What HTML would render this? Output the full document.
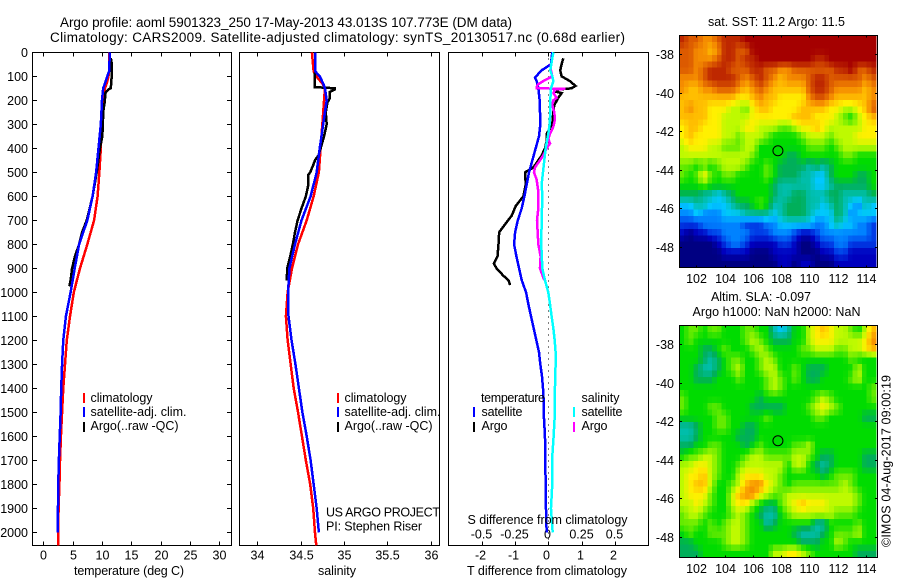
<!DOCTYPE html>
<html>
<head>
<meta charset="utf-8">
<title>Argo profile</title>
<style>
html,body{margin:0;padding:0;background:#fff;width:900px;height:580px;overflow:hidden}
svg{display:block;font-family:"Liberation Sans",sans-serif;font-size:12.5px;fill:#000}
</style>
</head>
<body>
<svg id="chart" width="900" height="580" viewBox="0 0 900 580" xmlns="http://www.w3.org/2000/svg">
<rect width="900" height="580" fill="#fff"/>
<text x="60" y="27" font-size="13.5" textLength="452" lengthAdjust="spacing">Argo profile: aoml 5901323_250 17-May-2013 43.013S 107.773E (DM data)</text>
<text x="50" y="42" font-size="13.5" textLength="575" lengthAdjust="spacing">Climatology: CARS2009. Satellite-adjusted climatology: synTS_20130517.nc (0.68d earlier)</text>
<g id="panels"></g>
<g id="maps"></g>
<text x="74" y="575" textLength="110">temperature (deg C)</text>
<text x="318" y="575" textLength="38">salinity</text>
<text x="467" y="575" textLength="160">T difference from climatology</text>
<text x="467.5" y="524" textLength="160">S difference from climatology</text>
<g>
<rect x="83" y="393" width="2" height="10" fill="#f00"/>
<text x="90.5" y="402" textLength="62">climatology</text>
<rect x="83" y="407" width="2" height="10" fill="#00f"/>
<text x="90.5" y="416" textLength="96">satellite-adj. clim.</text>
<rect x="83" y="422" width="2" height="10" fill="#000"/>
<text x="90.5" y="430" textLength="88">Argo(..raw -QC)</text>
</g>
<g>
<rect x="337" y="393" width="2" height="10" fill="#f00"/>
<text x="344.5" y="402" textLength="62">climatology</text>
<rect x="337" y="407" width="2" height="10" fill="#00f"/>
<text x="344.5" y="416" textLength="96">satellite-adj. clim.</text>
<rect x="337" y="422" width="2" height="10" fill="#000"/>
<text x="344.5" y="430" textLength="88">Argo(..raw -QC)</text>
</g>
<text x="326" y="516.5" textLength="114">US ARGO PROJECT</text>
<text x="326" y="530.5" textLength="96">PI: Stephen Riser</text>
<g>
<text x="481" y="402" textLength="64">temperature</text>
<rect x="473" y="407" width="2" height="10" fill="#00f"/>
<text x="481.5" y="416" textLength="41">satellite</text>
<rect x="473" y="422" width="2" height="10" fill="#000"/>
<text x="481.5" y="430" textLength="26">Argo</text>
<text x="581.5" y="402" textLength="38">salinity</text>
<rect x="573" y="407" width="2" height="10" fill="#0ff"/>
<text x="581.5" y="416" textLength="41">satellite</text>
<rect x="573" y="422" width="2" height="10" fill="#f0f"/>
<text x="581.5" y="430" textLength="26">Argo</text>
</g>
<text x="708" y="26" textLength="137">sat. SST: 11.2 Argo: 11.5</text>
<text x="711" y="301" textLength="100">Altim. SLA: -0.097</text>
<text x="692.5" y="316" textLength="168">Argo h1000: NaN h2000: NaN</text>
<text transform="translate(890.5 547) rotate(-90)" textLength="172">©IMOS 04-Aug-2017 09:00:19</text>
</svg>
<script>
// ---------- profile data (depth in m) ----------
var depthRed = [0,80,100,130,150,200,300,400,500,600,700,800,900,1000,1100,1200,1300,1400,1500,1600,1700,1800,1900,2000,2054];
var tempClim = [11.25,11.2,11.1,10.8,10.5,10.2,9.95,9.8,9.55,9.25,8.65,7.5,6.25,5.2,4.55,4,3.7,3.4,3.2,3,2.85,2.75,2.6,2.55,2.55];
var salClim = [34.63,34.65,34.68,34.75,34.78,34.77,34.75,34.73,34.71,34.65,34.57,34.47,34.4,34.35,34.33,34.35,34.385,34.42,34.47,34.515,34.56,34.61,34.645,34.665,34.68];
var depthBlue = [0,80,100,130,150,200,300,400,500,600,700,800,900,1000,1100,1200,1300,1400,1500,1600,1700,1800,1900,2000];
var tempSat = [11.35,11.2,10.9,10.5,10.2,10,9.8,9.4,9,8.4,7.5,6.1,5.35,4.65,3.85,3.4,3.2,3.05,2.95,2.8,2.65,2.55,2.5,2.45];
var salSat = [34.67,34.67,34.72,34.76,34.78,34.8,34.76,34.72,34.685,34.615,34.51,34.435,34.37,34.355,34.36,34.395,34.44,34.48,34.52,34.57,34.615,34.65,34.685,34.71];
var depthArgoT = [25,50,100,150,155,170,200,250,300,350,400,500,600,700,750,800,850,900,950,975];
var tempArgo = [11.5,11.7,11.65,11.5,11.1,10.55,10.5,10.2,10.15,10.05,9.65,9.1,8.4,7.4,6.6,6.1,5.4,4.9,4.65,4.45];
var depthArgoS = [85,145,150,155,165,190,210,250,300,350,400,430,450,470,500,510,550,600,650,700,750,800,850,900,950];
var salArgo = [34.665,34.665,34.896,34.896,34.838,34.838,34.808,34.79,34.8,34.77,34.73,34.705,34.665,34.645,34.61,34.59,34.59,34.56,34.51,34.465,34.435,34.41,34.38,34.345,34.34];
var depthDiffBlue = [0,50,75,105,120,150,200,300,350,400,450,500,550,600,650,700,750,800,850,900,950,1000,1050,1100,1150,1200,1250,1300,1350,1400,1450,1500,1600,1700,1800,1900,2000];
var diffTSat = [0.12,0.08,-0.2,-0.4,-0.35,-0.3,-0.26,-0.24,-0.28,-0.38,-0.48,-0.58,-0.65,-0.72,-0.8,-0.92,-1,-1.03,-0.96,-0.88,-0.8,-0.67,-0.6,-0.52,-0.44,-0.36,-0.28,-0.24,-0.19,-0.16,-0.14,-0.14,-0.1,-0.09,-0.08,-0.07,-0.05];
var depthDiffBlack = [25,50,75,100,120,140,150,155,165,170,190,220,250,300,340,370,400,430,450,480,500,550,600,640,680,720,750,800,850,880,900,930,950,970];
var diffTArgo = [0.45,0.4,0.36,0.4,0.65,0.82,0.7,0.3,0.25,0.4,0.3,0.18,0.15,0.12,-0.05,-0.05,-0.1,-0.2,-0.3,-0.45,-0.7,-0.68,-0.75,-0.98,-1.1,-1.32,-1.48,-1.5,-1.53,-1.64,-1.56,-1.36,-1.2,-1.15];
var depthDiffMag = [50,75,100,120,135,145,150,152,155,170,180,190,200,220,250,280,310,340,360,380,400,430,450,480,500,530,580,650,700,800,850,900,950];
var diffSArgo = [0.02,0.02,0.03,-0.038,-0.08,-0.088,-0.088,0.13,0.05,0.038,0.05,0.063,0.038,0.03,0.045,0.05,0.038,0.013,0,0.013,-0.013,-0.038,-0.063,-0.1,-0.108,-0.088,-0.075,-0.075,-0.085,-0.075,-0.058,-0.063,-0.03];
var depthDiffCyan = [0,25,75,100,120,150,200,250,300,340,400,450,500,550,600,700,800,900,950,1000,1050,1100,1150,1200,1250,1300,1400,1500,1600,1700,1800,1900,2000];
var diffSSat = [0.038,0.03,0.015,0.03,0.038,0.02,0.015,0.015,0.01,0,-0.02,-0.03,-0.04,-0.05,-0.045,-0.05,-0.053,-0.045,-0.025,0,0.013,0.025,0.038,0.048,0.055,0.055,0.05,0.05,0.04,0.028,0.03,0.02,0.033];

// ---------- tick labels ----------
var depthTicks = [0,100,200,300,400,500,600,700,800,900,1000,1100,1200,1300,1400,1500,1600,1700,1800,1900,2000];
var tempTicks = [0,5,10,15,20,25,30];
var salTicks = [34,34.5,35,35.5,36];
var diffTTicks = [-2,-1,0,1,2];
var diffSTicks = ["-0.5","-0.25","0","0.25","0.5"];
var lonTicks = [102,104,106,108,110,112,114];
var latTicks = [-38,-40,-42,-44,-46,-48];
var floatLon = 107.773;
var floatLat = -43.013;

// ---------- map grids: colour level per 0.5 degree cell, north to south ----------
var sstRow00 = [14,13,13,12,12,13,14,14,14,15,15,15,15,15,15,15,15,15,15,15,15,15,15,15,15,15,15,15];
var sstRow01 = [13,13,12,12,11,12,14,14,13,13,15,15,15,15,15,15,15,15,15,15,15,15,15,15,15,15,15,15];
var sstRow02 = [13,13,12,12,12,13,14,14,13,14,14,15,15,15,15,15,15,15,15,14,14,15,15,15,15,15,15,15];
var sstRow03 = [13,13,12,13,14,14,14,13,13,13,14,14,13,13,12,12,13,13,13,13,13,13,14,14,15,13,13,14];
var sstRow04 = [12,12,12,13,14,14,14,14,13,12,13,14,13,12,11,12,12,12,13,14,14,13,13,13,13,13,12,13];
var sstRow05 = [12,11,11,12,12,13,13,13,12,11,12,13,12,11,11,11,11,11,13,14,14,13,12,12,12,12,11,12];
var sstRow06 = [11,11,11,11,11,11,11,11,10,10,11,12,11,11,10,10,10,10,12,13,13,12,11,11,11,11,11,12];
var sstRow07 = [11,12,11,11,10,10,10,9,9,8,10,11,11,10,10,10,10,11,11,11,11,10,10,9,9,10,11,13];
var sstRow08 = [11,11,11,11,10,10,9,9,9,9,10,10,10,10,10,10,11,11,11,10,10,10,9,8,7,9,10,11];
var sstRow09 = [10,11,11,10,10,10,9,9,9,10,10,9,9,9,8,8,9,10,10,11,10,9,9,9,9,9,10,10];
var sstRow10 = [10,11,10,10,10,10,9,9,8,9,9,9,8,7,7,7,7,8,9,9,9,8,9,9,9,10,10,10];
var sstRow11 = [9,10,10,10,9,9,8,8,8,9,9,7,7,7,7,7,7,7,8,8,8,7,8,9,9,9,9,9];
var sstRow12 = [9,9,9,9,9,9,9,9,9,9,8,7,7,7,7,6,6,7,7,7,7,7,7,8,8,7,7,7];
var sstRow13 = [8,8,7,8,7,8,9,9,9,8,7,7,8,7,6,6,6,6,5,6,5,6,7,7,7,7,7,7];
var sstRow14 = [8,7,8,10,8,7,8,8,7,7,7,7,8,7,6,6,6,5,5,4,4,6,7,7,7,6,6,7];
var sstRow15 = [7,7,7,8,7,7,7,7,7,7,7,7,7,6,5,5,5,5,5,4,4,5,6,6,6,6,6,7];
var sstRow16 = [6,6,6,5,5,4,5,6,7,7,7,7,7,6,5,5,6,6,5,5,5,6,6,5,5,5,5,6];
var sstRow17 = [4,4,5,5,4,4,4,5,6,6,7,8,7,5,5,6,6,6,5,5,4,5,6,5,4,3,5,4];
var sstRow18 = [3,3,4,3,3,3,4,4,4,5,5,5,5,4,5,6,6,6,5,4,4,4,6,5,3,4,4,4];
var sstRow19 = [2,2,2,3,3,3,3,3,3,2,2,2,3,3,4,4,4,4,4,3,3,4,5,4,4,3,3,2];
var sstRow20 = [1,0,1,1,2,2,3,3,3,3,2,2,2,3,3,3,2,1,1,2,3,3,3,3,3,3,3,2];
var sstRow21 = [0,0,0,0,0,1,2,3,3,2,1,1,1,1,2,2,1,0,0,1,2,2,3,3,2,2,2,2];
var sstRow22 = [0,0,0,0,0,0,1,1,1,1,0,0,0,1,1,1,1,0,0,0,1,1,2,2,1,1,1,1];
var sstRow23 = [0,0,0,0,0,0,0,0,0,0,0,0,0,0,1,1,0,1,1,0,0,0,1,1,1,1,1,1];
var sstGrid = [sstRow00,sstRow01,sstRow02,sstRow03,sstRow04,sstRow05,sstRow06,sstRow07,sstRow08,sstRow09,sstRow10,sstRow11,sstRow12,sstRow13,sstRow14,sstRow15,sstRow16,sstRow17,sstRow18,sstRow19,sstRow20,sstRow21,sstRow22,sstRow23];

var slaRow00 = [7,8,8,7,8,8,7,7,7,8,8,7,7,5,4,5,7,7,9,10,11,10,9,9,8,7,9,11];
var slaRow01 = [7,8,7,7,7,7,7,7,7,8,9,8,7,6,6,6,7,7,9,10,10,10,9,9,9,9,10,12];
var slaRow02 = [7,7,7,6,6,7,8,7,7,7,8,9,8,7,7,7,7,8,8,9,9,9,8,8,9,9,10,11];
var slaRow03 = [7,7,7,6,5,6,7,8,8,7,7,8,9,8,7,7,7,7,7,7,7,7,7,7,8,7,7,7];
var slaRow04 = [7,7,6,5,5,6,7,8,9,7,7,8,9,9,7,7,8,7,6,6,6,7,7,7,7,9,7,7];
var slaRow05 = [7,7,6,6,6,7,7,7,8,7,7,7,8,9,8,7,8,7,6,6,7,7,7,7,8,9,7,7];
var slaRow06 = [7,7,7,7,7,7,7,7,7,7,7,7,8,9,8,7,7,7,7,7,7,7,7,7,7,7,7,8];
var slaRow07 = [8,7,7,7,7,7,7,7,7,7,7,6,7,7,7,7,7,7,7,8,9,8,7,7,7,7,7,8];
var slaRow08 = [8,7,7,7,8,8,7,7,7,7,6,6,6,6,6,7,7,7,8,9,10,9,8,7,7,7,7,7];
var slaRow09 = [7,7,7,7,7,8,8,7,7,7,7,7,8,7,7,7,7,7,7,8,8,7,7,7,7,7,6,6];
var slaRow10 = [5,5,6,7,7,8,8,7,7,6,6,7,7,7,7,7,7,7,7,7,7,7,7,7,7,7,7,7];
var slaRow11 = [5,5,6,7,7,7,7,7,6,6,6,7,7,7,7,7,7,7,7,7,7,7,7,7,7,7,7,7];
var slaRow12 = [6,6,7,7,8,8,7,7,7,6,7,8,7,7,7,7,8,8,9,7,7,7,7,7,7,7,7,7];
var slaRow13 = [7,8,8,9,9,8,7,7,7,8,9,9,8,8,8,8,9,9,8,7,6,6,7,7,7,7,6,6];
var slaRow14 = [9,9,10,10,9,8,7,7,8,9,9,9,9,9,9,7,9,9,7,6,5,6,7,7,7,7,6,6];
var slaRow15 = [9,10,10,11,9,8,7,7,9,10,10,10,9,9,8,7,7,7,7,7,6,7,8,8,8,7,7,7];
var slaRow16 = [9,10,11,11,9,7,7,8,9,11,12,12,10,9,8,7,8,8,8,8,8,8,8,9,8,7,7,7];
var slaRow17 = [9,10,10,10,8,7,7,9,11,12,12,10,9,8,8,9,9,9,9,9,9,9,9,9,9,8,7,7];
var slaRow18 = [9,9,10,9,8,7,7,9,10,10,8,7,6,6,8,9,10,11,10,10,10,9,9,9,9,8,7,7];
var slaRow19 = [8,9,9,8,7,7,7,8,9,8,7,6,5,5,7,8,9,9,9,9,9,9,8,8,8,7,7,7];
var slaRow20 = [8,8,8,7,8,7,8,9,9,8,7,7,5,6,7,7,7,7,7,5,5,7,7,7,7,8,7,7];
var slaRow21 = [7,8,7,7,8,8,8,9,9,8,7,7,7,7,7,7,6,5,5,5,6,7,8,8,8,9,7,7];
var slaRow22 = [6,6,7,7,7,7,8,9,9,8,7,7,7,7,7,7,7,6,6,6,7,7,9,8,7,7,7,7];
var slaRow23 = [6,6,6,7,7,7,7,7,7,7,7,7,7,9,9,10,10,9,8,7,7,7,7,7,7,6,6,6];
var slaGrid = [slaRow00,slaRow01,slaRow02,slaRow03,slaRow04,slaRow05,slaRow06,slaRow07,slaRow08,slaRow09,slaRow10,slaRow11,slaRow12,slaRow13,slaRow14,slaRow15,slaRow16,slaRow17,slaRow18,slaRow19,slaRow20,slaRow21,slaRow22,slaRow23];

var colorLevels = [[0,0,130],[0,0,190],[0,60,230],[0,130,255],[0,200,255],[0,190,170],[0,175,90],[0,220,0],[100,235,0],[190,250,0],[255,240,0],[255,190,0],[245,140,0],[220,90,0],[190,40,0],[165,0,0]];

// ---------- drawing ----------
var NS = "http://www.w3.org/2000/svg";
var panelsG = document.getElementById("panels");
var mapsG = document.getElementById("maps");
function mk(tag, attrs, parent) {
  var el = document.createElementNS(NS, tag);
  for (var k in attrs) el.setAttribute(k, attrs[k]);
  parent.appendChild(el);
  return el;
}
var yTop = 52.5, yBottom = 545.5;
function depthY(d) { return 52.3 + 0.24 * d; }
function tempX(t) { return 43.3 + 5.87 * t; }
function salX(s) { return 257.3 + 86.7 * (s - 34); }
function diffTX(t) { return 548.3 + 33.2 * t; }
function diffSX(s) { return diffTX(4 * s); }

function drawSeries(parent, depths, values, xFn, color, name, width) {
  var pts = [];
  for (var i = 0; i < depths.length; i++) {
    pts.push(xFn(values[i]).toFixed(2) + "," + depthY(depths[i]).toFixed(2));
  }
  var line = mk("polyline", {points: pts.join(" "), fill: "none", stroke: color, "stroke-width": width, "stroke-linejoin": "miter", "shape-rendering": "crispEdges"}, parent);
  
  
}
function axisBox(parent, x1, x2, y1, y2, name) {
  var box = mk("rect", {x: x1, y: y1, width: x2 - x1, height: y2 - y1, fill: "none", stroke: "#000", "stroke-width": 1, "shape-rendering": "crispEdges"}, parent);
  
  
}
function tick(parent, x1, y1, x2, y2) {
  var t = mk("line", {x1: x1, y1: y1, x2: x2, y2: y2, stroke: "#000", "stroke-width": 1, "shape-rendering": "crispEdges"}, parent);
  
  
}
function label(parent, x, y, txt, anchor) {
  var t = mk("text", {x: x, y: y, "text-anchor": anchor}, parent);
  t.textContent = txt;
  
  
}

// temperature panel
var p1 = mk("g", {}, panelsG);


axisBox(p1, 32.5, 231.5, yTop, yBottom, 'temperature-axes');
depthTicks.forEach(function (d) {
  var y = Math.round(depthY(d)) + 0.5;
  if (d > 0) { tick(p1, 32.5, y, 37, y); tick(p1, 227, y, 231.5, y); }
  label(p1, 28, Math.round(depthY(d)) + 5, String(d), "end");
});
tempTicks.forEach(function (t) {
  var x = Math.round(tempX(t)) + 0.5;
  tick(p1, x, yTop, x, yTop + 4);
  tick(p1, x, yBottom - 4, x, yBottom);
  label(p1, x, 559.5, String(t), "middle");
});
drawSeries(p1, depthRed, tempClim, tempX, "#f00", "temperature-climatology-line", 2.5);
drawSeries(p1, depthArgoT, tempArgo, tempX, "#000", "temperature-argo-line", 2.5);
drawSeries(p1, depthBlue, tempSat, tempX, "#00f", "temperature-satellite-line", 2.5);

// salinity panel
var p2 = mk("g", {}, panelsG);


axisBox(p2, 239.5, 439.5, yTop, yBottom, 'salinity-axes');
salTicks.forEach(function (s) {
  var x = Math.round(salX(s)) + 0.5;
  tick(p2, x, yTop, x, yTop + 4);
  tick(p2, x, yBottom - 4, x, yBottom);
  label(p2, x, 559.5, String(s), "middle");
});
drawSeries(p2, depthRed, salClim, salX, "#f00", "salinity-climatology-line", 2.5);
drawSeries(p2, depthArgoS, salArgo, salX, "#000", "salinity-argo-line", 2.5);
drawSeries(p2, depthBlue, salSat, salX, "#00f", "salinity-satellite-line", 2.5);

// difference panel
var p3 = mk("g", {}, panelsG);


axisBox(p3, 448.5, 648.5, yTop, yBottom, 'difference-axes');
diffTTicks.forEach(function (t, i) {
  var x = Math.round(diffTX(t)) + 0.5;
  tick(p3, x, yTop, x, yTop + 4);
  tick(p3, x, yBottom - 4, x, yBottom);
  label(p3, x - 2, 559.5, String(t), "middle");
  label(p3, x - 1, 538.5, diffSTicks[i], "middle");
});
var zero = mk("line", {x1: diffTX(0), y1: yTop, x2: diffTX(0), y2: yBottom, stroke: "#000", "stroke-width": 1, "stroke-dasharray": "1 5", "shape-rendering": "crispEdges"}, p3);


drawSeries(p3, depthDiffBlack, diffTArgo, diffTX, "#000", "t-difference-argo-line", 2.5);
drawSeries(p3, depthDiffBlue, diffTSat, diffTX, "#00f", "t-difference-satellite-line", 2.5);
drawSeries(p3, depthDiffMag, diffSArgo, diffSX, "#f0f", "s-difference-argo-line", 2.5);
drawSeries(p3, depthDiffCyan, diffSSat, diffSX, "#0ff", "s-difference-satellite-line", 2.5);

// maps
function lonX(lon) { return 696.3 + 14.14 * (lon - 102); }
function levelColor(v) {
  var max = colorLevels.length - 1;
  var a = Math.max(0, Math.min(max, Math.floor(v)));
  var b = Math.min(max, a + 1);
  var f = Math.max(0, Math.min(1, v - a));
  var ca = colorLevels[a], cb = colorLevels[b];
  return "rgb(" + Math.round(ca[0] + (cb[0] - ca[0]) * f) + "," + Math.round(ca[1] + (cb[1] - ca[1]) * f) + "," + Math.round(ca[2] + (cb[2] - ca[2]) * f) + ")";
}
function sampleGrid(grid, u, v) {
  var rows = grid.length, cols = grid[0].length;
  var x = Math.max(0, Math.min(cols - 1, u)), y = Math.max(0, Math.min(rows - 1, v));
  var x0 = Math.floor(x), y0 = Math.floor(y);
  var x1 = Math.min(cols - 1, x0 + 1), y1 = Math.min(rows - 1, y0 + 1);
  var fx = x - x0, fy = y - y0;
  return grid[y0][x0] * (1 - fx) * (1 - fy) + grid[y0][x1] * fx * (1 - fy) + grid[y1][x0] * (1 - fx) * fy + grid[y1][x1] * fx * fy;
}
function drawMap(name, grid, top, bottom, latBase) {
  var g = mk("g", {}, mapsG);
  
  
  function latY(lat) { return latBase + 19.3 * (-38 - lat); }
  var lon0 = 100.8, lonSpan = 13.91, blocksX = 42, blocksY = 36;
  var cw = 14.14 * lonSpan / blocksX, ch = (bottom - top) / blocksY;
  for (var r = 0; r < blocksY; r++) {
    for (var c = 0; c < blocksX; c++) {
      var u = (c + 0.5) / blocksX * grid[0].length - 0.5;
      var v = (r + 0.5) / blocksY * grid.length - 0.5;
      var x1 = lonX(lon0) + cw * c, y1 = top + ch * r;
      var cell = mk("rect", {x: x1.toFixed(2), y: y1.toFixed(2), width: (cw + 0.5).toFixed(2), height: (ch + 0.5).toFixed(2), fill: levelColor(sampleGrid(grid, u, v)), "shape-rendering": "crispEdges"}, g);
      
      
    }
  }
  axisBox(g, 679.5, 877.5, top, bottom, name + '-axes');
  lonTicks.forEach(function (lon) {
    var x = Math.round(lonX(lon)) + 0.5;
    tick(g, x, top, x, top + 2);
    tick(g, x, bottom - 2, x, bottom);
    label(g, x, bottom + 15.5, String(lon), "middle");
  });
  latTicks.forEach(function (lat) {
    var y = Math.round(latY(lat)) + 0.5;
    tick(g, 679.5, y, 682, y);
    tick(g, 875, y, 877.5, y);
    label(g, 674, y + 4.5, String(lat), "end");
  });
  var dot = mk("circle", {cx: lonX(floatLon), cy: latY(floatLat), r: 5, fill: "none", stroke: "#000", "stroke-width": 1}, g);
  
  
}
drawMap('sst-map', sstGrid, 35.5, 267.5, 54);
drawMap('sla-map', slaGrid, 325.5, 557.5, 344);
</script>
</body>
</html>
